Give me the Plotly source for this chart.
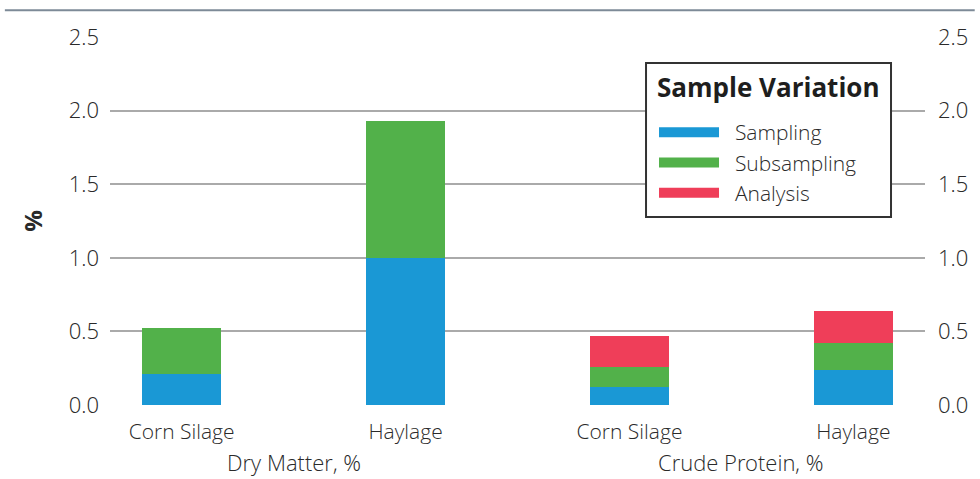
import plotly.graph_objects as go

# Data
groups = ["Dry Matter, %", "Dry Matter, %", "Crude Protein, %", "Crude Protein, %"]
feeds = ["Corn Silage", "Haylage", "Corn Silage", "Haylage"]
series_names = ["Sampling", "Subsampling", "Analysis"]
sampling = [0.21, 1.00, 0.12, 0.24]
subsampling = [0.31, 0.93, 0.14, 0.18]
analysis = [0.00, 0.00, 0.21, 0.22]
series_values = [sampling, subsampling, analysis]
colors = ["#1a98d5", "#52b14a", "#ef3e59"]
y_ticks = [0.0, 0.5, 1.0, 1.5, 2.0, 2.5]
legend_title = "Sample Variation"

FONT = "Open Sans Light, Open Sans"
TEXT = "#2a2a2a"
GRID = "#aaaaaa"

positions = list(range(len(feeds)))

fig = go.Figure()
for name, vals, col in zip(series_names, series_values, colors):
    fig.add_trace(go.Bar(
        x=positions, y=vals, name=name, marker=dict(color=col, line=dict(width=0)),
        width=0.353, showlegend=False, hoverinfo="y+name",
    ))
    # wide legend swatch
    fig.add_trace(go.Scatter(
        x=[None], y=[None], mode="lines", name="\u00a0\u00a0" + name,
        legendgroup=name,
        line=dict(color=col, width=15), showlegend=True,
    ))

# invisible trace to carry the right-hand axis
fig.add_trace(go.Scatter(x=[None], y=[None], yaxis="y2", showlegend=False))

tick_font = dict(family=FONT, size=22, color=TEXT, weight=300)
fig.update_layout(
    width=980, height=479,
    margin=dict(l=110, r=55, t=37, b=74),
    paper_bgcolor="white", plot_bgcolor="white",
    barmode="stack",
    bargap=0,
    xaxis=dict(
        range=[-0.32, len(feeds) - 1 + 0.32],
        tickvals=positions, ticktext=feeds,
        tickfont=dict(family=FONT, size=21, color=TEXT, weight=300),
        showgrid=False, zeroline=False, showline=False, ticks="",
        ticklabelstandoff=12,
    ),
    yaxis=dict(
        range=[0, 2.5], tickvals=y_ticks, ticktext=[f"{v:.1f}" for v in y_ticks],
        tickfont=tick_font, showgrid=True, gridcolor=GRID, gridwidth=2,
        zeroline=False, showline=False, ticks="", ticklabelstandoff=10,
        title=dict(text="<b>%</b>", font=dict(family="Open Sans", size=24, color=TEXT), standoff=19),
    ),
    yaxis2=dict(
        range=[0, 2.5], tickvals=y_ticks, ticktext=[f"{v:.1f}" for v in y_ticks],
        tickfont=tick_font, overlaying="y", side="right", showgrid=False,
        zeroline=False, showline=False, ticks="", ticklabelstandoff=12,
    ),
    legend=dict(
        x=0.6675, y=0.796, xanchor="left", yanchor="top",
        bgcolor="rgba(0,0,0,0)", borderwidth=0,
        traceorder="normal",
        font=dict(family=FONT, size=21, color=TEXT, weight=300),
        itemwidth=60, tracegroupgap=0,
    ),
)

# legend frame and heading
fig.add_shape(type="rect", xref="paper", yref="paper",
              x0=0.6577, x1=0.9583, y0=0.5109, y1=0.9293,
              line=dict(color="#333333", width=2), fillcolor="white", layer="above")
fig.add_annotation(
    x=0.8074, y=0.864, xref="paper", yref="paper", showarrow=False,
    xanchor="center", yanchor="middle",
    text=f"<b>{legend_title}</b>",
    font=dict(family="Open Sans", size=26, color="#1e1e1e", weight=800),
)

# group labels centered under their feeds
seen = []
for g in groups:
    if g not in seen:
        seen.append(g)
for g in seen:
    xs = [p for p, gg in zip(positions, groups) if gg == g]
    fig.add_annotation(
        x=sum(xs) / len(xs), xref="x", y=-0.155, yref="paper",
        xanchor="center", yanchor="middle",
        text=g, showarrow=False,
        font=dict(family=FONT, size=22, color=TEXT, weight=300),
    )

# rule across the top
fig.add_shape(type="line", xref="paper", yref="paper",
              x0=-0.129, x1=1.061, y0=1.073, y1=1.073,
              line=dict(color="#7d8a97", width=2))

fig.write_html("out.html")
